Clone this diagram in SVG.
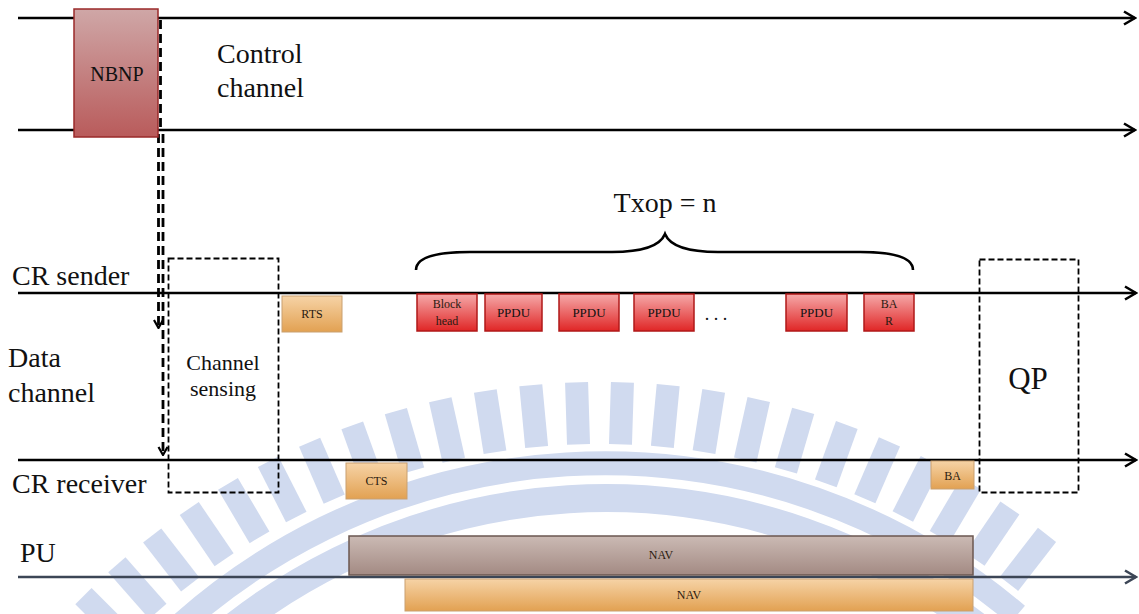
<svg xmlns="http://www.w3.org/2000/svg" xmlns:xlink="http://www.w3.org/1999/xlink" width="1139" height="614" viewBox="0 0 1139 614" font-family="Liberation Serif, Times New Roman, serif">
<style>
text{font-family:Liberation Serif, Tinos, Times New Roman, DejaVu Serif, serif}
.lbl{fill:#111}
.big{font-size:28px}
.med{font-size:22px}
.sm{font-size:12px;fill:#2a1a10}
.tl{fill:none;stroke:#000;stroke-width:2.6}
.dash{fill:none;stroke:#000;stroke-width:1.8;stroke-dasharray:6 3}
.ddash{fill:none;stroke:#000;stroke-width:2.8;stroke-dasharray:9 5}
.red{fill:url(#gRed);stroke:#b01818;stroke-width:1.5}
.org{fill:url(#gOrg);stroke:#c9a070;stroke-width:1}
.wm{fill:#d0daef}
</style>
<defs>
<linearGradient id="gRed" x1="0" y1="0" x2="0" y2="1"><stop offset="0" stop-color="#f5a9a9"/><stop offset="1" stop-color="#e02626"/></linearGradient>
<linearGradient id="gOrg" x1="0" y1="0" x2="0" y2="1"><stop offset="0" stop-color="#f6d3a6"/><stop offset="1" stop-color="#e2a152"/></linearGradient>
<linearGradient id="gNB" x1="0" y1="0" x2="0" y2="1"><stop offset="0" stop-color="#cfa7a7"/><stop offset="1" stop-color="#b95b5b"/></linearGradient>
<linearGradient id="gNav" x1="0" y1="0" x2="0" y2="1"><stop offset="0" stop-color="#cbbab4"/><stop offset="1" stop-color="#a38a83"/></linearGradient>
<marker id="arr" viewBox="0 0 14 16" refX="12" refY="8" markerWidth="14" markerHeight="16" markerUnits="userSpaceOnUse" orient="auto"><path d="M1,1.5 L12,8 L1,14.5" fill="none" stroke="#000" stroke-width="2.6"/></marker>
<marker id="arrPU" viewBox="0 0 14 16" refX="12" refY="8" markerWidth="14" markerHeight="16" markerUnits="userSpaceOnUse" orient="auto"><path d="M1,1.5 L12,8 L1,14.5" fill="none" stroke="#3c4656" stroke-width="2.6"/></marker>
<marker id="arrD" viewBox="0 0 10 12" refX="9" refY="6" markerWidth="10" markerHeight="12" markerUnits="userSpaceOnUse" orient="auto"><path d="M1,1.5 L9,6 L1,10.5" fill="none" stroke="#000" stroke-width="2.2"/></marker>
<rect id="tooth" x="588" y="382" width="23" height="62"/>
</defs>

<g id="watermark" class="wm">
<path d="M137.3,667.4 A637,637 0 0 1 1017.2,614.9" fill="none" stroke="#d0daef" stroke-width="24"/>
<path d="M162.2,692.6 A603,603 0 0 1 995.3,640.9" fill="none" stroke="#d0daef" stroke-width="28"/>
<use xlink:href="#tooth" transform="rotate(-45 600 1112)"/>
<use xlink:href="#tooth" transform="rotate(-41.4 600 1112)"/>
<use xlink:href="#tooth" transform="rotate(-37.8 600 1112)"/>
<use xlink:href="#tooth" transform="rotate(-34.2 600 1112)"/>
<use xlink:href="#tooth" transform="rotate(-30.6 600 1112)"/>
<use xlink:href="#tooth" transform="rotate(-27 600 1112)"/>
<use xlink:href="#tooth" transform="rotate(-23.4 600 1112)"/>
<use xlink:href="#tooth" transform="rotate(-19.8 600 1112)"/>
<use xlink:href="#tooth" transform="rotate(-16.2 600 1112)"/>
<use xlink:href="#tooth" transform="rotate(-12.6 600 1112)"/>
<use xlink:href="#tooth" transform="rotate(-9 600 1112)"/>
<use xlink:href="#tooth" transform="rotate(-5.4 600 1112)"/>
<use xlink:href="#tooth" transform="rotate(-1.8 600 1112)"/>
<use xlink:href="#tooth" transform="rotate(1.8 600 1112)"/>
<use xlink:href="#tooth" transform="rotate(5.4 600 1112)"/>
<use xlink:href="#tooth" transform="rotate(9 600 1112)"/>
<use xlink:href="#tooth" transform="rotate(12.6 600 1112)"/>
<use xlink:href="#tooth" transform="rotate(16.2 600 1112)"/>
<use xlink:href="#tooth" transform="rotate(19.8 600 1112)"/>
<use xlink:href="#tooth" transform="rotate(23.4 600 1112)"/>
<use xlink:href="#tooth" transform="rotate(27 600 1112)"/>
<use xlink:href="#tooth" transform="rotate(30.6 600 1112)"/>
<use xlink:href="#tooth" transform="rotate(34.2 600 1112)"/>
<use xlink:href="#tooth" transform="rotate(37.8 600 1112)"/>
</g>

<g id="connectors">
<path class="tl" d="M18,18 H1135" marker-end="url(#arr)"/>
<path class="tl" d="M18,130 H1135" marker-end="url(#arr)"/>
<path class="tl" d="M18,293 H1136" marker-end="url(#arr)"/>
<path class="tl" d="M18,460 H1136" marker-end="url(#arr)"/>
<path d="M18,577 H1136" fill="none" stroke="#3c4656" stroke-width="2.6" marker-end="url(#arrPU)"/>
<path class="ddash" d="M160.5,20 V130" stroke-width="3.6"/>
<path class="ddash" d="M158.5,134 V328" marker-end="url(#arrD)"/>
<path class="ddash" d="M163,134 V455" marker-end="url(#arrD)"/>
</g>

<g id="labels">
<text class="lbl big" x="217" y="63">Control</text>
<text class="lbl big" x="217" y="97">channel</text>
<text class="lbl big" x="12" y="285">CR sender</text>
<text class="lbl big" x="8" y="367">Data</text>
<text class="lbl big" x="8" y="402">channel</text>
<text class="lbl big" x="12" y="493">CR receiver</text>
<text class="lbl big" x="20" y="562">PU</text>
</g>

<g id="nbnp">
<rect x="74" y="9" width="84" height="128" fill="url(#gNB)" stroke="#9a2a2a" stroke-width="1.5"/>
<text class="lbl" x="117" y="81" font-size="20" text-anchor="middle" fill="#3a1515">NBNP</text>
</g>

<g id="txop">
<text class="lbl big" x="665" y="212" text-anchor="middle">Txop = n</text>
<path d="M416,270 C416,257 438,252 470,252 L612,252 C642,252 660,246 665,234 C670,246 688,252 718,252 L860,252 C892,252 913,257 913,270" fill="none" stroke="#000" stroke-width="2.6"/>
</g>

<g id="channel-sensing">
<rect class="dash" x="168.5" y="258.5" width="110" height="234"/>
<text class="lbl med" x="223" y="370" text-anchor="middle">Channel</text>
<text class="lbl med" x="223" y="396" text-anchor="middle">sensing</text>
</g>

<g id="qp">
<rect class="dash" x="979.5" y="259.5" width="99" height="233"/>
<text class="lbl" x="1028" y="389" font-size="31" text-anchor="middle">QP</text>
</g>

<g id="rts">
<rect class="org" x="282" y="296" width="60" height="36"/>
<text class="lbl sm" x="312" y="318" text-anchor="middle">RTS</text>
</g>

<g id="block-head">
<rect class="red" x="417" y="294" width="60" height="37"/>
<text class="lbl sm" x="447" y="308" text-anchor="middle">Block</text>
<text class="lbl sm" x="447" y="325" text-anchor="middle">head</text>
</g>
<g id="ppdu1">
<rect class="red" x="485" y="294" width="57" height="37"/>
<text class="lbl" x="513.5" y="317" font-size="13" text-anchor="middle" fill="#2a1010">PPDU</text>
</g>
<g id="ppdu2">
<rect class="red" x="559" y="294" width="60" height="37"/>
<text class="lbl" x="589" y="317" font-size="13" text-anchor="middle" fill="#2a1010">PPDU</text>
</g>
<g id="ppdu3">
<rect class="red" x="634" y="294" width="60" height="37"/>
<text class="lbl" x="664" y="317" font-size="13" text-anchor="middle" fill="#2a1010">PPDU</text>
</g>
<g id="dots">
<text class="lbl" x="716" y="320" font-size="18" text-anchor="middle">. . .</text>
</g>
<g id="ppdu4">
<rect class="red" x="786" y="294" width="61" height="37"/>
<text class="lbl" x="816.5" y="317" font-size="13" text-anchor="middle" fill="#2a1010">PPDU</text>
</g>
<g id="bar">
<rect class="red" x="864" y="294" width="50" height="37"/>
<text class="lbl sm" x="889" y="308" text-anchor="middle">BA</text>
<text class="lbl sm" x="889" y="325" text-anchor="middle">R</text>
</g>

<g id="cts">
<rect class="org" x="346" y="463" width="61" height="36"/>
<text class="lbl sm" x="376.5" y="485" text-anchor="middle">CTS</text>
</g>
<g id="ba">
<rect class="org" x="931" y="461" width="43" height="28"/>
<text class="lbl sm" x="952.5" y="480" text-anchor="middle">BA</text>
</g>

<g id="nav1">
<rect x="349" y="536" width="624" height="39" fill="url(#gNav)" stroke="#6b5750" stroke-width="1.5"/>
<text class="lbl sm" x="661" y="559" text-anchor="middle">NAV</text>
</g>
<g id="nav2">
<rect class="org" x="405" y="579" width="568" height="32"/>
<text class="lbl sm" x="689" y="599" text-anchor="middle">NAV</text>
</g>
</svg>
